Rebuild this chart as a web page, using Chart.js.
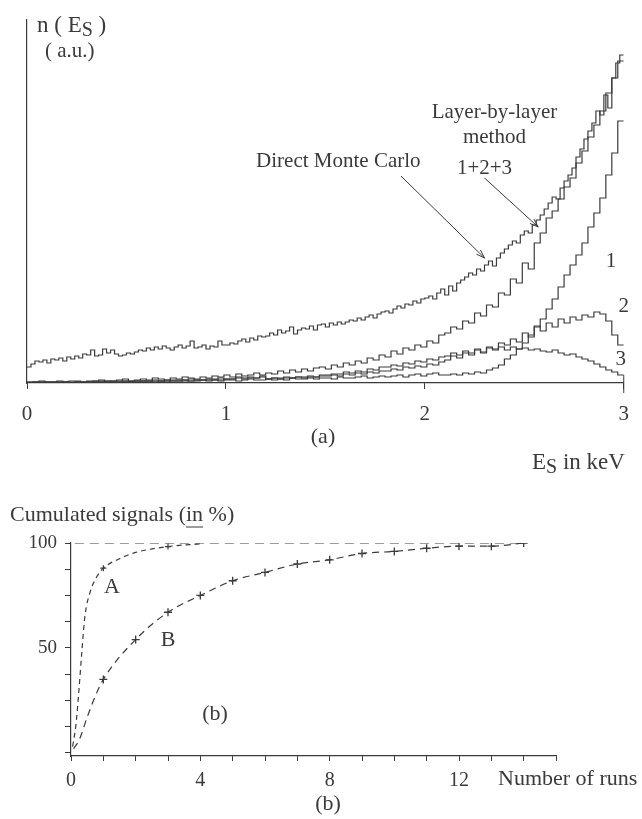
<!DOCTYPE html>
<html>
<head>
<meta charset="utf-8">
<script src="https://cdn.jsdelivr.net/npm/chart.js@4"></script>
<style>
  html, body { margin: 0; padding: 0; background: #ffffff; }
  #wrap { position: relative; width: 642px; height: 819px; }
  canvas { position: absolute; left: 0; }
  #spectrum { top: 0; }
  #cumulated { top: 480px; }
</style>
</head>
<body>
<div id="wrap">
  <canvas id="spectrum" width="642" height="480"></canvas>
  <canvas id="cumulated" width="642" height="339"></canvas>
</div>
<script>
// ---------- (a) energy spectra n(Es), arbitrary units ----------
const energyTicks = [0, 1, 2, 3];
const mcBinWidth = 0.02;      // keV
const layerBinWidth = 0.03;   // keV

const directMonteCarlo = [
  16, 19, 22, 21, 23, 20, 24, 23, 25, 22,
  26, 24, 27, 25, 29, 28, 33, 27, 28, 34,
  30, 33, 29, 27, 28, 30, 29, 31, 33, 32,
  35, 33, 36, 34, 37, 35, 33, 36, 38, 35,
  37, 42, 35, 36, 38, 34, 37, 36, 42, 38,
  38, 40, 39, 42, 44, 41, 45, 43, 47, 46,
  47, 50, 48, 53, 50, 52, 56, 49, 53, 55,
  54, 57, 53, 58, 59, 56, 60, 58, 61, 59,
  61, 63, 62, 65, 63, 66, 68, 65, 69, 71,
  72, 70, 74, 77, 75, 79, 78, 82, 80, 84,
  85, 87, 84, 90, 94, 88, 97, 92, 100, 103,
  106, 110, 108, 114, 112, 118, 122, 117, 125, 130,
  134, 138, 142, 140, 148, 152, 150, 158, 163, 168,
  174, 180, 186, 184, 195, 202, 208, 215, 226, 234,
  244, 252, 260, 272, 268, 288, 275, 305, 320, 328
];

const layerSum = [
  1, 1, 2, 1, 1, 2, 1, 2, 2, 1,
  2, 2, 3, 2, 2, 3, 4, 2, 3, 4,
  3, 5, 4, 3, 5, 4, 6, 5, 4, 6,
  5, 7, 6, 8, 6, 9, 7, 8, 10, 8,
  10, 9, 12, 10, 13, 11, 14, 12, 15, 16,
  14, 18, 16, 20, 18, 22, 20, 25, 23, 28,
  26, 32, 29, 35, 33, 38, 36, 42, 40, 48,
  50, 56, 54, 62, 60, 70, 67, 78, 76, 90,
  88, 104, 100, 120, 114, 140, 150, 165, 172, 184,
  196, 205, 220, 232, 246, 258, 272, 290, 305, 322
];

const layer1 = [
  0, 1, 0, 1, 1, 0, 1, 1, 1, 0,
  1, 1, 2, 1, 1, 2, 1, 1, 2, 2,
  1, 2, 2, 1, 2, 2, 3, 2, 2, 3,
  2, 3, 2, 3, 3, 2, 3, 4, 3, 3,
  4, 3, 4, 3, 5, 4, 4, 5, 4, 5,
  5, 4, 6, 5, 5, 6, 7, 5, 6, 7,
  6, 7, 8, 6, 8, 9, 7, 9, 10, 8,
  8, 9, 8, 10, 9, 11, 10, 13, 15, 18,
  24, 28, 34, 40, 48, 56, 64, 74, 84, 96,
  108, 118, 128, 140, 156, 170, 185, 208, 230, 262
];

const layer2 = [
  1, 0, 1, 1, 0, 1, 1, 0, 1, 1,
  1, 1, 1, 2, 1, 1, 2, 1, 2, 2,
  2, 1, 2, 3, 2, 2, 3, 2, 3, 3,
  3, 4, 3, 4, 4, 5, 4, 5, 5, 6,
  4, 5, 4, 5, 5, 6, 5, 6, 6, 7,
  7, 8, 7, 9, 8, 10, 9, 11, 10, 12,
  12, 14, 13, 16, 15, 17, 16, 19, 18, 21,
  23, 27, 25, 30, 28, 33, 30, 36, 34, 40,
  38, 44, 41, 50, 46, 57, 52, 60, 56, 64,
  60, 66, 63, 68, 66, 71, 69, 62, 48, 38
];

const layer3 = [
  0, 1, 1, 0, 1, 1, 1, 0, 1, 1,
  1, 2, 1, 1, 2, 1, 2, 2, 1, 2,
  2, 3, 2, 2, 3, 3, 2, 4, 3, 3,
  4, 3, 5, 4, 4, 6, 5, 6, 5, 7,
  4, 5, 5, 6, 5, 6, 6, 7, 6, 8,
  8, 9, 9, 11, 10, 12, 11, 14, 13, 16,
  16, 18, 17, 20, 19, 22, 21, 24, 23, 26,
  27, 30, 28, 32, 30, 34, 31, 35, 33, 36,
  33, 36, 34, 35, 33, 34, 32, 31, 33, 30,
  28, 29, 26, 24, 22, 19, 16, 13, 11, 8
];

// ---------- (b) cumulated signals versus number of runs ----------
const runTicks = [0, 1, 2, 3, 4, 5, 6, 7, 8, 9, 10, 11, 12, 13, 14, 15];
const runTickLabels = [0, 4, 8, 12];
const signalTicks = [0, 12.5, 25, 37.5, 50, 62.5, 75, 87.5, 100];
const signalTickLabels = [50, 100];

const runsA   = [0.05, 0.15, 0.22, 0.34, 0.43, 0.6, 0.8, 1, 1.5, 2, 3, 4];
const signalA = [3, 13, 25, 49, 65, 77, 84, 88, 92.5, 95.5, 98.3, 99.6];

const runsB   = [0.08, 0.25, 0.5, 0.75, 1, 2, 3, 4, 5, 6, 7, 8, 9, 10, 11, 12, 13, 14];
const signalB = [2, 6, 17, 27, 35, 54, 67, 75, 82, 86, 90, 92, 95, 96, 97.5, 98.5, 98.5, 100];

const fullScaleRuns = [0.12, 14.05];
const fullScale = [100, 100];

// ---------- helpers ----------
const INK = '#3a3a3a';
const SERIF = '"Liberation Serif", "DejaVu Serif", serif';

function histogram(values, width) {
  const pts = values.map((v, i) => ({ x: i * width, y: v }));
  pts.push({ x: values.length * width, y: values[values.length - 1] });
  return pts;
}
function pairs(xs, ys) { return xs.map((x, i) => ({ x, y: ys[i] })); }

function histSet(values, width) {
  return {
    data: histogram(values, width),
    stepped: 'before',
    borderColor: INK,
    borderWidth: 1.2,
    pointRadius: 0,
    fill: false
  };
}

function arrow(ctx, x0, y0, x1, y1) {
  ctx.beginPath();
  ctx.moveTo(x0, y0);
  ctx.lineTo(x1, y1);
  ctx.stroke();
  const a = Math.atan2(y1 - y0, x1 - x0), L = 9, w = 0.33;
  ctx.beginPath();
  ctx.moveTo(x1 - L * Math.cos(a - w), y1 - L * Math.sin(a - w));
  ctx.lineTo(x1, y1);
  ctx.lineTo(x1 - L * Math.cos(a + w), y1 - L * Math.sin(a + w));
  ctx.stroke();
}

// draws a run of text pieces [text, size, dy] left to right
function pieces(ctx, list, x, y) {
  let cx = x;
  list.forEach(([t, size, dy]) => {
    ctx.font = size + 'px ' + SERIF;
    ctx.fillText(t, cx, y + dy);
    cx += ctx.measureText(t).width;
  });
  return cx;
}

// ---------- chart (a) ----------
const spectrumLabels = {
  id: 'spectrumLabels',
  afterDraw(chart) {
    const { ctx, scales: { x, y } } = chart;
    ctx.save();
    ctx.fillStyle = INK;
    ctx.strokeStyle = INK;
    ctx.lineWidth = 1;
    ctx.textBaseline = 'alphabetic';
    ctx.textAlign = 'left';

    // axis title n(Es) (a.u.)
    pieces(ctx, [['n ( E', 23, 0], ['S', 20, 4], [' )', 23, 0]], 37, 32);
    pieces(ctx, [['( a.u.)', 21, 0]], 45, 57);

    // energy axis title and panel tag
    pieces(ctx, [['E', 23, 0], ['S', 20, 4], [' in keV', 23, 0]], 532, 469);
    ctx.textAlign = 'center';
    ctx.font = '22px ' + SERIF;
    ctx.fillText('(a)', 323, 443);

    // annotations
    const px = (e) => x.getPixelForValue(e);
    const py = (v) => y.getPixelForValue(v);
    ctx.font = '21px ' + SERIF;
    ctx.fillText('Direct Monte Carlo', px(1.565), py(216));
    ctx.fillText('Layer-by-layer', px(2.35), py(265));
    ctx.fillText('method', px(2.35), py(240));
    ctx.fillText('1+2+3', px(2.3), py(209));
    arrow(ctx, px(1.88), py(207), px(2.30), py(125));
    arrow(ctx, px(2.30), py(205), px(2.57), py(156));

    ctx.fillText('1', px(2.936), py(116));
    ctx.fillText('2', px(3.0), py(71));
    ctx.fillText('3', px(2.985), py(18));

    // tall end mark at 3 keV
    ctx.beginPath();
    ctx.moveTo(px(3), y.bottom - 8);
    ctx.lineTo(px(3), y.bottom + 10);
    ctx.stroke();
    ctx.restore();
  }
};

new Chart(document.getElementById('spectrum'), {
  type: 'line',
  data: {
    datasets: [
      histSet(directMonteCarlo, mcBinWidth),
      histSet(layerSum, layerBinWidth),
      histSet(layer1, layerBinWidth),
      histSet(layer2, layerBinWidth),
      histSet(layer3, layerBinWidth)
    ]
  },
  options: {
    responsive: false,
    animation: false,
    layout: { padding: { top: 20, right: 7, left: 0, bottom: 0 } },
    plugins: { legend: { display: false }, tooltip: { enabled: false } },
    scales: {
      x: {
        type: 'linear',
        min: 0, max: 3,
        afterFit: (s) => { s.height = 97; },
        afterBuildTicks: (s) => { s.ticks = energyTicks.map(v => ({ value: v })); },
        border: { display: true, color: INK, width: 1.2 },
        grid: { drawOnChartArea: false, drawTicks: true, tickLength: 6, color: INK },
        ticks: {
          color: INK, padding: 13,
          font: { family: SERIF, size: 21 },
          callback: (v) => String(v)
        }
      },
      y: {
        type: 'linear',
        min: 0, max: 363,
        afterFit: (s) => { s.width = 27; },
        border: { display: true, color: INK, width: 1.2 },
        grid: { display: false },
        ticks: { display: false }
      }
    }
  },
  plugins: [spectrumLabels]
});

// ---------- chart (b) ----------
const cumulatedLabels = {
  id: 'cumulatedLabels',
  afterDraw(chart) {
    const { ctx, scales: { x, y } } = chart;
    ctx.save();
    ctx.fillStyle = INK;
    ctx.strokeStyle = INK;
    ctx.lineWidth = 1;
    ctx.textBaseline = 'alphabetic';
    ctx.textAlign = 'left';

    // title with underlined "in"
    ctx.font = '22px ' + SERIF;
    const head = 'Cumulated signals (';
    ctx.fillText(head + 'in %)', 10, 41);
    const u0 = 10 + ctx.measureText(head).width;
    const u1 = u0 + ctx.measureText('in').width;
    ctx.beginPath();
    ctx.moveTo(u0, 47);
    ctx.lineTo(u1, 47);
    ctx.stroke();

    // axis title
    ctx.font = '22px ' + SERIF;
    ctx.fillText('Number of runs', 498, 305);

    // curve tags and panel tags
    ctx.textAlign = 'center';
    ctx.font = '22px ' + SERIF;
    ctx.fillText('A', x.getPixelForValue(1.27), y.getPixelForValue(76));
    ctx.fillText('B', x.getPixelForValue(3.0), y.getPixelForValue(51));
    ctx.fillText('(b)', 215, 240);
    ctx.fillText('(b)', 328, 330);
    ctx.restore();
  }
};

new Chart(document.getElementById('cumulated'), {
  type: 'line',
  data: {
    datasets: [
      {
        data: pairs(fullScaleRuns, fullScale),
        borderColor: INK, borderWidth: 1.2,
        borderDash: [9, 6], pointRadius: 0, fill: false
      },
      {
        data: pairs(runsA, signalA),
        borderColor: INK, borderWidth: 1.2,
        borderDash: [5, 4], cubicInterpolationMode: 'monotone',
        pointRadius: runsA.map(r => (r === 1 || r === 3) ? 3 : 0),
        pointStyle: 'cross', pointBorderColor: INK, pointBorderWidth: 1.2,
        fill: false
      },
      {
        data: pairs(runsB, signalB),
        borderColor: INK, borderWidth: 1.2,
        borderDash: [7, 5], cubicInterpolationMode: 'monotone',
        pointRadius: runsB.map(r => Number.isInteger(r) ? 4 : 0),
        pointStyle: 'cross', pointBorderColor: INK, pointBorderWidth: 1.3,
        fill: false
      }
    ]
  },
  options: {
    responsive: false,
    animation: false,
    layout: { padding: { top: 63, right: 86, left: 0, bottom: 0 } },
    plugins: { legend: { display: false }, tooltip: { enabled: false } },
    scales: {
      x: {
        type: 'linear',
        min: 0, max: 15,
        afterFit: (s) => { s.height = 63; },
        afterBuildTicks: (s) => { s.ticks = runTicks.map(v => ({ value: v })); },
        border: { display: true, color: INK, width: 1.2 },
        grid: { drawOnChartArea: false, drawTicks: true, tickLength: 5, color: INK },
        ticks: {
          color: INK, padding: 8,
          font: { family: SERIF, size: 20 },
          callback: (v) => runTickLabels.includes(v) ? String(v) : ''
        }
      },
      y: {
        type: 'linear',
        min: -1.5, max: 100,
        afterFit: (s) => { s.width = 71; },
        afterBuildTicks: (s) => { s.ticks = signalTicks.map(v => ({ value: v })); },
        border: { display: true, color: INK, width: 1.2 },
        grid: { drawOnChartArea: false, drawTicks: true, tickLength: 6, color: INK },
        ticks: {
          color: INK, padding: 8,
          font: { family: SERIF, size: 19 },
          callback: (v) => signalTickLabels.includes(v) ? String(v) : ''
        }
      }
    }
  },
  plugins: [cumulatedLabels]
});
</script>
</body>
</html>
